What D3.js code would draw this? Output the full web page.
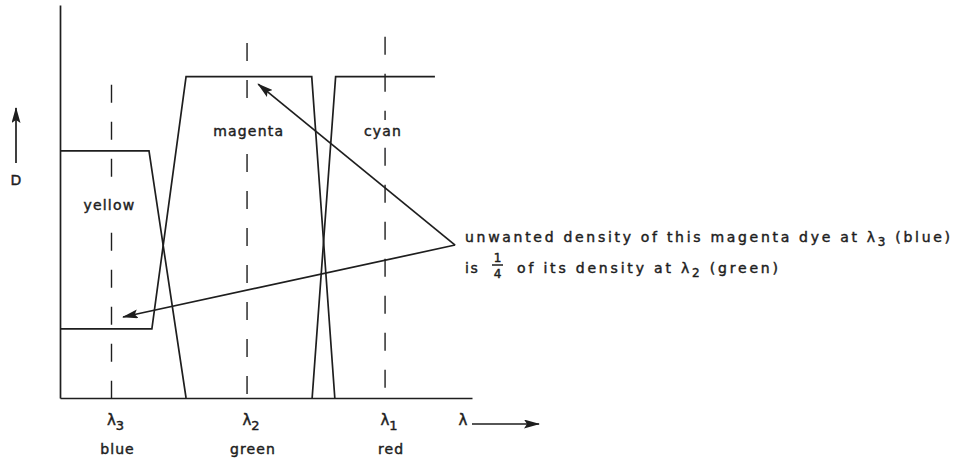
<!DOCTYPE html>
<html>
<head>
<meta charset="utf-8">
<script src="https://cdn.jsdelivr.net/npm/d3@7"></script>
<style>
  body { margin: 0; background: #fff; }
  svg text { font-family: "DejaVu Sans", sans-serif; fill: #1e1e1e; stroke: #1e1e1e; stroke-width: 0.45px; }
  svg text.halo { fill: #fff; stroke: #fff; stroke-width: 16px; }
</style>
</head>
<body>
<div id="chart"></div>
<script>
// wavelength (arbitrary units, 0-100) and density D (magenta max = 1)
var lambdaPos = [12.5, 45.4, 78.9];
var lambdaSub = ["3", "2", "1"];
var lambdaColor = ["blue", "green", "red"];
var dashTop = [0.975, 1.105, 1.124];

var yellowWl = [0, 21.6, 30.6];
var yellowD = [0.769, 0.769, 0];
var magentaWl = [0, 22.3, 30.6, 61.1, 66.7];
var magentaD = [0.215, 0.215, 1, 1, 0];
var cyanWl = [61.2, 66.9, 91];
var cyanD = [0, 1, 1];

var dyeNames = ["yellow", "magenta", "cyan"];
var dyeLabelWl = [12, 45.8, 78.4];
var dyeLabelD = [0.585, 0.816, 0.816];

// annotation: arrows from the note to magenta at lambda2 and lambda3
var noteWl = 95.9, noteD = 0.476;
var arrowWl = [48.1, 15.3];
var arrowD = [0.977, 0.252];

function paint() {
    var margin = { top: 5, right: 483, bottom: 65, left: 60 },
        width = 955 - margin.left - margin.right,
        height = 463 - margin.top - margin.bottom;

    var svg = d3.select("#chart")
        .append("svg")
        .attr("width", 955)
        .attr("height", 463);

    var defs = svg.append("defs");
    defs.append("marker")
        .attr("id", "head")
        .attr("markerUnits", "userSpaceOnUse")
        .attr("viewBox", "0 0 16 9")
        .attr("refX", 15).attr("refY", 4.5)
        .attr("markerWidth", 16).attr("markerHeight", 9)
        .attr("orient", "auto")
        .append("path")
        .attr("d", "M0,0 L16,4.5 L0,9 L3,4.5 Z")
        .attr("fill", "#1e1e1e");

    var g = svg.append("g")
        .attr("transform", "translate(" + margin.left + "," + margin.top + ")");

    var x = d3.scaleLinear().domain([0, 100]).range([0, width]);
    var y = d3.scaleLinear().domain([0, 1.223]).range([height, 0]);

    // axes (plain lines, no ticks)
    g.append("g")
        .attr("transform", "translate(0," + height + ")")
        .call(d3.axisBottom(x).ticks(0).tickSizeOuter(0))
        .select(".domain").attr("stroke", "#1e1e1e").attr("stroke-width", 1.7);
    g.append("g")
        .call(d3.axisLeft(y).ticks(0).tickSizeOuter(0))
        .select(".domain").attr("stroke", "#1e1e1e").attr("stroke-width", 1.7);

    // dashed wavelength markers
    g.selectAll(".lam")
        .data(lambdaPos)
        .enter().append("line")
        .attr("x1", function (d) { return x(d); })
        .attr("x2", function (d) { return x(d); })
        .attr("y1", function (d, i) { return y(dashTop[i]); })
        .attr("y2", y(0))
        .attr("stroke", "#1e1e1e")
        .attr("stroke-width", 1.4)
        .attr("stroke-dasharray", "18,19");

    // dye curves
    var line = d3.line()
        .x(function (d) { return x(d[0]); })
        .y(function (d) { return y(d[1]); });
    var curves = [d3.zip(yellowWl, yellowD), d3.zip(magentaWl, magentaD), d3.zip(cyanWl, cyanD)];
    g.selectAll(".dye")
        .data(curves)
        .enter().append("path")
        .attr("d", line)
        .attr("fill", "none")
        .attr("stroke", "#1e1e1e")
        .attr("stroke-width", 1.7)
        .attr("stroke-linejoin", "miter");

    // dye names (white halo hides the dashes behind them)
    ["halo", "fg"].forEach(function (cls) {
        g.selectAll(".dyeLabel." + cls)
            .data(dyeNames)
            .enter().append("text")
            .attr("class", "dyeLabel " + cls)
            .attr("x", function (d, i) { return x(dyeLabelWl[i]); })
            .attr("y", function (d, i) { return y(dyeLabelD[i]); })
            .attr("text-anchor", "middle")
            .style("font-size", "14px")
            .style("letter-spacing", "1.2px")
            .text(function (d) { return d; });
    });

    // annotation arrows
    g.selectAll(".arrow")
        .data(arrowWl)
        .enter().append("line")
        .attr("x1", x(noteWl))
        .attr("y1", y(noteD))
        .attr("x2", function (d) { return x(d); })
        .attr("y2", function (d, i) { return y(arrowD[i]); })
        .attr("stroke", "#1e1e1e")
        .attr("stroke-width", 1.7)
        .attr("marker-end", "url(#head)");

    // wavelength labels under the axis
    var lab = g.selectAll(".lamLabel")
        .data(lambdaPos)
        .enter().append("text")
        .attr("x", function (d) { return x(d) + 4; })
        .attr("y", height + 27)
        .attr("text-anchor", "middle")
        .style("font-size", "15px");
    lab.append("tspan").text("λ");
    lab.append("tspan").attr("dy", 5).style("font-size", "13px")
        .text(function (d, i) { return lambdaSub[i]; });

    g.selectAll(".colLabel")
        .data(lambdaPos)
        .enter().append("text")
        .attr("x", function (d) { return x(d) + 6; })
        .attr("y", height + 56)
        .attr("text-anchor", "middle")
        .style("font-size", "14px")
        .style("letter-spacing", "1.1px")
        .text(function (d, i) { return lambdaColor[i]; });

    // x axis title with arrow
    g.append("text")
        .attr("x", width - 9)
        .attr("y", height + 27)
        .attr("text-anchor", "middle")
        .style("font-size", "15px")
        .text("λ");
    g.append("line")
        .attr("x1", width).attr("y1", height + 26)
        .attr("x2", width + 67).attr("y2", height + 26)
        .attr("stroke", "#1e1e1e")
        .attr("stroke-width", 1.7)
        .attr("marker-end", "url(#head)");

    // y axis title with arrow
    g.append("text")
        .attr("x", -44)
        .attr("y", 180)
        .attr("text-anchor", "middle")
        .style("font-size", "14px")
        .text("D");
    g.append("line")
        .attr("x1", -44).attr("y1", 158)
        .attr("x2", -44).attr("y2", 103)
        .attr("stroke", "#1e1e1e")
        .attr("stroke-width", 1.7)
        .attr("marker-end", "url(#head)");

    // note text
    var note = svg.append("g");
    var t1 = note.append("text")
        .attr("x", 465).attr("y", 242)
        .attr("textLength", 485)
        .attr("lengthAdjust", "spacing")
        .style("font-size", "14px");
    t1.append("tspan").text("unwanted density of this magenta dye at λ");
    t1.append("tspan").attr("dy", 4).style("font-size", "12px").text("3");
    t1.append("tspan").attr("dy", -4).text(" (blue)");

    note.append("text")
        .attr("x", 465).attr("y", 273)
        .style("font-size", "14px")
        .style("letter-spacing", "1.5px")
        .text("is");
    note.append("text")
        .attr("x", 497.5).attr("y", 262)
        .attr("text-anchor", "middle")
        .style("font-size", "12px")
        .text("1");
    note.append("line")
        .attr("x1", 492).attr("x2", 503)
        .attr("y1", 265).attr("y2", 265)
        .attr("stroke", "#1e1e1e").attr("stroke-width", 1.5);
    note.append("text")
        .attr("x", 497.5).attr("y", 278)
        .attr("text-anchor", "middle")
        .style("font-size", "12px")
        .text("4");

    var t2 = note.append("text")
        .attr("x", 517).attr("y", 273)
        .attr("textLength", 261)
        .attr("lengthAdjust", "spacing")
        .style("font-size", "14px");
    t2.append("tspan").text("of its density at λ");
    t2.append("tspan").attr("dy", 4).style("font-size", "12px").text("2");
    t2.append("tspan").attr("dy", -4).text(" (green)");
}

paint();
</script>
</body>
</html>
